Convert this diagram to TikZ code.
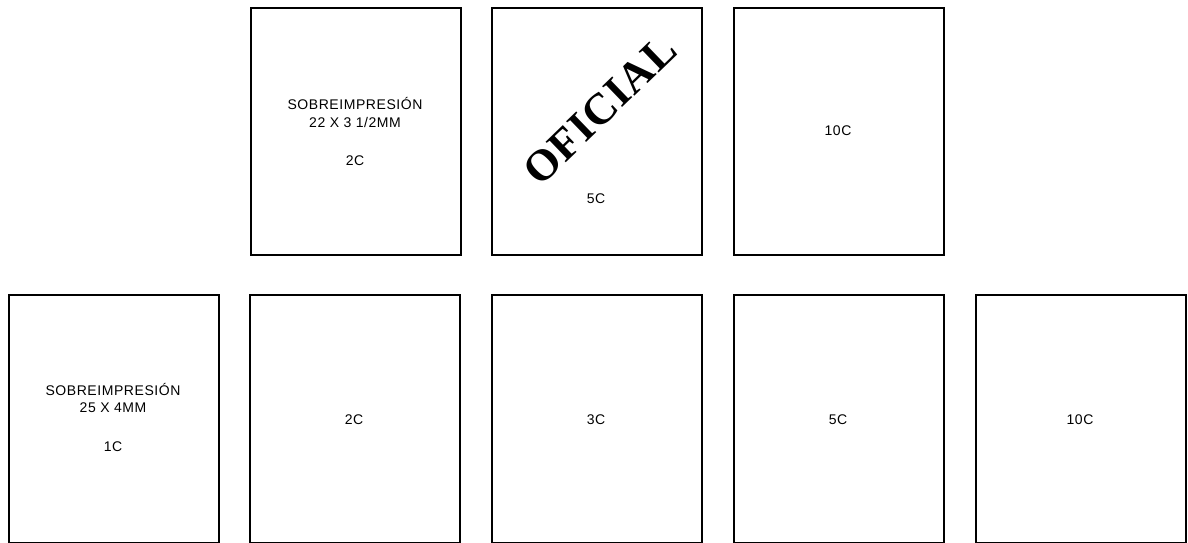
\documentclass[tikz,border=0pt]{standalone}
\usepackage{fontspec}
\setmainfont{Liberation Sans}
\newfontfamily\labelfont[LetterSpace=4]{Liberation Sans}
\newfontfamily\stampfont[LetterSpace=2]{Liberation Serif}
\begin{document}
\begin{tikzpicture}[x=1pt,y=-1pt,
  stamp/.style={draw=black,line width=1.6pt,rectangle,minimum width=210pt,minimum height=247pt,inner sep=0pt,anchor=north west},
  lbl/.style={font=\labelfont\fontsize{14}{16}\selectfont,inner sep=0pt,anchor=center}]
\path[use as bounding box,fill=white] (0,0) rectangle (1188,542);
% top row
\node[stamp] (t1) at (250,7) {};
\node[stamp] (t2) at (491,7) {};
\node[stamp] (t3) at (733,7) {};
% bottom row
\node[stamp,minimum height=248pt] (b1) at (8,294) {};
\node[stamp,minimum height=248pt] (b2) at (249,294) {};
\node[stamp,minimum height=248pt] (b3) at (491,294) {};
\node[stamp,minimum height=248pt] (b4) at (733,294) {};
\node[stamp,minimum height=248pt] (b5) at (975,294) {};
% top texts
\node[lbl] (t1a) at (355,103) {SOBREIMPRESIÓN};
\node[lbl] (t1b) at (355,122) {22 X 3 1/2MM};
\node[lbl] (t1c) at (355,161) {2C};
\node[font=\stampfont\bfseries\fontsize{44}{46}\selectfont,inner sep=0pt,rotate=44] (of) at (600,110) {OFICIAL};
\node[lbl] (t2c) at (596,199) {5C};
\node[lbl] (t3c) at (838,131) {10C};
% bottom texts
\node[lbl] (b1a) at (113,389) {SOBREIMPRESIÓN};
\node[lbl] (b1b) at (113,408) {25 X 4MM};
\node[lbl] (b1c) at (113,447) {1C};
\node[lbl] (b2c) at (354,420) {2C};
\node[lbl] (b3c) at (596,420) {3C};
\node[lbl] (b4c) at (838,420) {5C};
\node[lbl] (b5c) at (1080,420) {10C};
\end{tikzpicture}
\end{document}
